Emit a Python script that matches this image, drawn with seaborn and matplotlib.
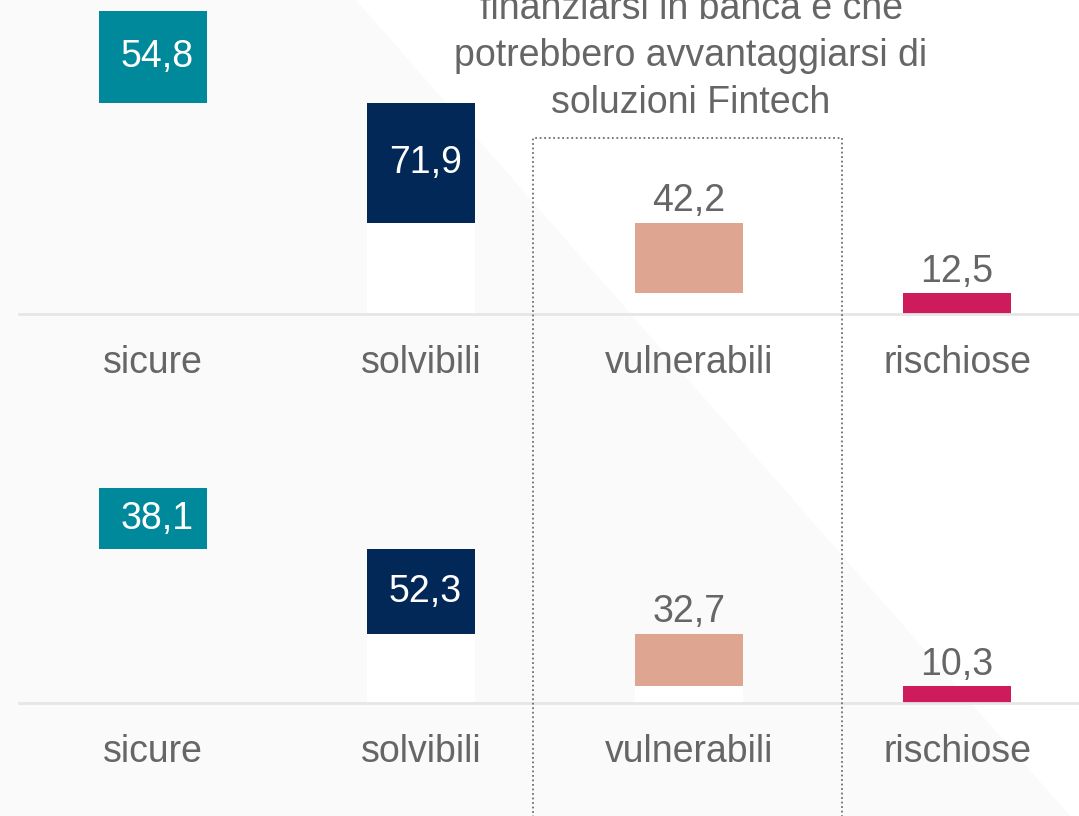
import numpy as np
import pandas as pd
import matplotlib
matplotlib.use("Agg")
import matplotlib.pyplot as plt
from matplotlib.patches import Polygon, Rectangle
import seaborn as sns

# ---------------- data ----------------
categories = ["sicure", "solvibili", "vulnerabili", "rischiose"]
values_top = [54.8, 71.9, 42.2, 12.5]
values_bottom = [38.1, 52.3, 32.7, 10.3]
labels_top = ["54,8", "71,9", "42,2", "12,5"]
labels_bottom = ["38,1", "52,3", "32,7", "10,3"]
bar_colors = ["#00899A", "#012856", "#DEA591", "#CE1B5B"]
base_colors = [(1, 1, 1, 0), "white", "white", "white"]
title_text = "finanziarsi in banca e che\npotrebbero avvantaggiarsi di\nsoluzioni Fintech"

# ---------------- style ----------------
sns.set_theme(style="white")
plt.rcParams["font.family"] = ["Liberation Sans", "DejaVu Sans"]

W, H = 1079, 816
FS = 27
GRAY_TXT = "#666666"

fig = plt.figure(figsize=(W / 100, H / 100), dpi=100, facecolor="white")

# light gray diagonal background
bg = Polygon([(0, 1), (356 / W, 1), (1070 / W, 0), (0, 0)], closed=True,
             transform=fig.transFigure, facecolor="#fafafa", edgecolor="none",
             zorder=-10)
fig.patches.append(bg)


def draw_panel(ax, values, labels, ymax):
    vals = np.array(values, dtype=float)
    bases = np.array([vals[i + 1:].sum() for i in range(len(vals))])
    tops = bases + vals
    df = pd.DataFrame({"cat": categories, "val": vals, "base": bases})

    # floating (waterfall) value bars
    sns.barplot(data=df, x="cat", y="val", hue="cat", palette=bar_colors,
                width=0.403, linewidth=0, saturation=1, errorbar=None,
                legend=False, ax=ax)
    for cont, b in zip(list(ax.containers), bases):
        for p in cont:
            p.set_y(b)
    # supporting base bars (white)
    sns.barplot(data=df, x="cat", y="base", hue="cat", palette=base_colors,
                width=0.403, linewidth=0, saturation=1, errorbar=None,
                legend=False, ax=ax)

    for i, lab in enumerate(labels):
        if i < 2:
            ax.annotate(lab, xy=(i, bases[i] + vals[i] / 2), xytext=(3, 0),
                        textcoords="offset points", ha="center", va="center",
                        color="white", fontsize=FS)
        else:
            ax.annotate(lab, xy=(i, tops[i]), xytext=(0, 2.5),
                        textcoords="offset points", ha="center", va="bottom",
                        color=GRAY_TXT, fontsize=FS)
    ax.set_facecolor("none")
    ax.set_xlim(-0.5, -0.5 + 1060 / 268)
    ax.set_ylim(0, ymax)
    ax.set_xticks(range(len(categories)))
    ax.set_xticklabels(categories, fontsize=FS, color=GRAY_TXT)
    ax.tick_params(axis="x", length=0, pad=22)
    ax.set_yticks([])
    ax.set_xlabel("")
    ax.set_ylabel("")
    for s in ["top", "left", "right"]:
        ax.spines[s].set_visible(False)
    ax.spines["bottom"].set_color("#e6e6e6")
    ax.spines["bottom"].set_linewidth(2)


ax_top = fig.add_axes([19 / W, (H - 314) / H, 1060 / W, 314 / H])
draw_panel(ax_top, values_top, labels_top, 314 / 1.670)

ax_bot = fig.add_axes([19 / W, (H - 703) / H, 1060 / W, 308 / H])
draw_panel(ax_bot, values_bottom, labels_bottom, 308 / 1.612)

# dotted highlight box around "vulnerabili"
box = Rectangle((533 / W, -20 / H), (842 - 533) / W, (H - 138 + 20) / H,
                transform=fig.transFigure, fill=False, edgecolor="#707070",
                linewidth=1.3, linestyle=(0, (1, 1.5)), zorder=20)
fig.add_artist(box)

# title-like text (partially cut at the top)
fig.text(691 / W, (H + 9) / H, title_text, ha="center", va="top",
         fontsize=FS, color=GRAY_TXT, linespacing=1.4)

fig.savefig("out.png", dpi=100)
